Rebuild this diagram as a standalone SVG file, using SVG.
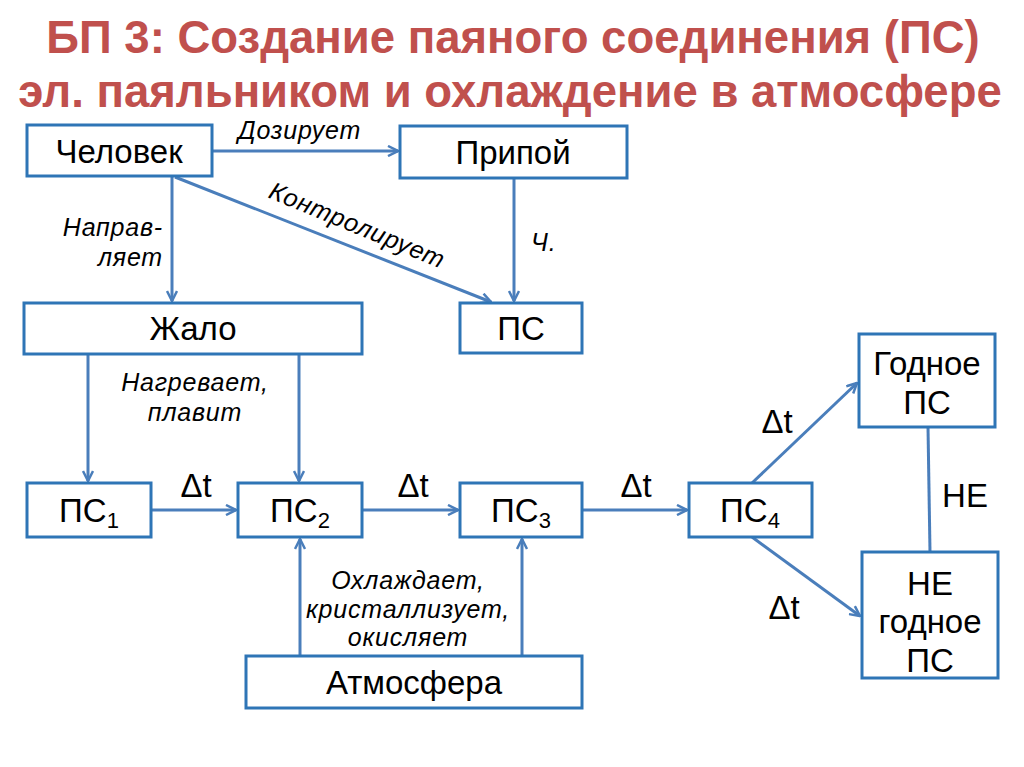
<svg xmlns="http://www.w3.org/2000/svg" width="1024" height="767" viewBox="0 0 1024 767">
<style>
.title{font-family:"Liberation Sans",Arial,sans-serif;font-weight:bold;font-size:45.5px;fill:#c0504d;text-anchor:middle}
.box{fill:#fff;stroke:#2e75b6;stroke-width:3}
.nt{font-family:"Liberation Sans",Arial,sans-serif;font-size:33px;fill:#000;text-anchor:middle}
.lb{font-family:"Liberation Sans",Arial,sans-serif;font-size:25px;font-style:italic;fill:#000;letter-spacing:0.8px}
.dt{font-family:"Liberation Sans",Arial,sans-serif;font-size:33px;fill:#000;text-anchor:middle}
.c{fill:none;stroke:#4a7ebb;stroke-width:3}
.sub{font-size:22px}
</style>
<defs>
<marker id="ar" viewBox="0 0 12 12" refX="11" refY="6" markerWidth="12" markerHeight="12" markerUnits="userSpaceOnUse" orient="auto">
<path d="M1,1 L11,6 L1,11" fill="none" stroke="#4a7ebb" stroke-width="2.5"/>
</marker>
</defs>
<rect width="1024" height="767" fill="#fff"/>
<g id="title">
<text class="title" x="513" y="53">БП 3: Создание паяного соединения (ПС)</text>
<text class="title" x="510" y="107">эл. паяльником и охлаждение в атмосфере</text>
</g>
<g id="connectors">
<line class="c" x1="212" y1="151" x2="398" y2="151" marker-end="url(#ar)"/>
<line class="c" x1="172" y1="177" x2="172" y2="301" marker-end="url(#ar)"/>
<line class="c" x1="175" y1="177" x2="491" y2="302" marker-end="url(#ar)"/>
<line class="c" x1="514" y1="178" x2="514" y2="301" marker-end="url(#ar)"/>
<line class="c" x1="88" y1="354" x2="88" y2="481" marker-end="url(#ar)"/>
<line class="c" x1="299" y1="354" x2="299" y2="481" marker-end="url(#ar)"/>
<line class="c" x1="151" y1="510" x2="236" y2="510" marker-end="url(#ar)"/>
<line class="c" x1="362" y1="510" x2="458" y2="510" marker-end="url(#ar)"/>
<line class="c" x1="582" y1="510" x2="687" y2="510" marker-end="url(#ar)"/>
<line class="c" x1="300" y1="656" x2="300" y2="539" marker-end="url(#ar)"/>
<line class="c" x1="522" y1="656" x2="522" y2="539" marker-end="url(#ar)"/>
<line class="c" x1="752" y1="483" x2="857" y2="383" marker-end="url(#ar)"/>
<line class="c" x1="752" y1="537" x2="860" y2="616" marker-end="url(#ar)"/>
<line class="c" x1="928" y1="427" x2="930" y2="552"/>
<text class="lb" x="238" y="139">Дозирует</text>
<text class="lb" x="163" y="236" text-anchor="end">Направ-</text>
<text class="lb" x="163" y="266" text-anchor="end">ляет</text>
<text class="lb" x="0" y="0" text-anchor="middle" transform="translate(354,233) rotate(22.4)">Контролирует</text>
<text class="lb" x="531" y="251">Ч.</text>
<text class="lb" x="195" y="391" text-anchor="middle">Нагревает,</text>
<text class="lb" x="195" y="421" text-anchor="middle">плавит</text>
<text class="lb" x="408" y="589" text-anchor="middle">Охлаждает,</text>
<text class="lb" x="408" y="618" text-anchor="middle">кристаллизует,</text>
<text class="lb" x="408" y="646" text-anchor="middle">окисляет</text>
<text class="dt" x="196" y="497">Δt</text>
<text class="dt" x="413" y="497">Δt</text>
<text class="dt" x="636" y="497">Δt</text>
<text class="dt" x="777" y="433">Δt</text>
<text class="dt" x="784" y="619">Δt</text>
<text class="dt" x="965" y="507">НЕ</text>
</g>
<g id="chelovek"><rect class="box" x="27" y="125" width="185" height="51"/><text class="nt" x="119" y="163">Человек</text></g>
<g id="pripoy"><rect class="box" x="400" y="126" width="227" height="52"/><text class="nt" x="513" y="164">Припой</text></g>
<g id="ps"><rect class="box" x="460" y="303" width="122" height="50"/><text class="nt" x="521" y="340">ПС</text></g>
<g id="zhalo"><rect class="box" x="24" y="303" width="338" height="51"/><text class="nt" x="193" y="340">Жало</text></g>
<g id="ps1"><rect class="box" x="27" y="483" width="124" height="54"/><text class="nt" x="89" y="522">ПС<tspan class="sub" dy="6">1</tspan></text></g>
<g id="ps2"><rect class="box" x="238" y="483" width="124" height="54"/><text class="nt" x="300" y="522">ПС<tspan class="sub" dy="6">2</tspan></text></g>
<g id="ps3"><rect class="box" x="460" y="483" width="122" height="54"/><text class="nt" x="521" y="522">ПС<tspan class="sub" dy="6">3</tspan></text></g>
<g id="ps4"><rect class="box" x="689" y="483" width="123" height="54"/><text class="nt" x="750" y="522">ПС<tspan class="sub" dy="6">4</tspan></text></g>
<g id="atmosfera"><rect class="box" x="246" y="656" width="336" height="52"/><text class="nt" x="414" y="694">Атмосфера</text></g>
<g id="godnoe"><rect class="box" x="859" y="334" width="136" height="93"/><text class="nt" x="927" y="375">Годное</text><text class="nt" x="927" y="414">ПС</text></g>
<g id="negodnoe"><rect class="box" x="862" y="552" width="136" height="126"/><text class="nt" x="930" y="595">НЕ</text><text class="nt" x="930" y="633">годное</text><text class="nt" x="930" y="672">ПС</text></g>
</svg>
